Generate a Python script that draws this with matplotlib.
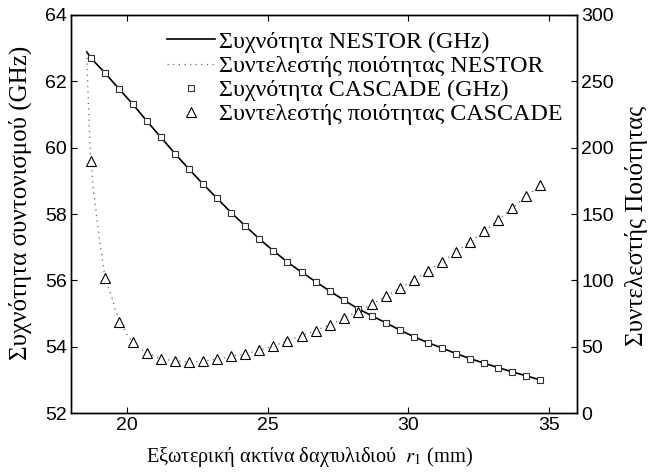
import matplotlib
matplotlib.use("Agg")
import matplotlib.pyplot as plt

# CASCADE samples
cascade_r = [18.7, 19.2, 19.7, 20.2, 20.7, 21.2, 21.7, 22.2, 22.7, 23.2, 23.7,
             24.2, 24.7, 25.2, 25.7, 26.2, 26.7, 27.2, 27.7, 28.2, 28.7, 29.2,
             29.7, 30.2, 30.7, 31.2, 31.7, 32.2, 32.7, 33.2, 33.7, 34.2, 34.7]
cascade_freq = [62.71, 62.26, 61.78, 61.31, 60.80, 60.31, 59.82, 59.35, 58.90,
                58.47, 58.04, 57.64, 57.25, 56.89, 56.55, 56.25, 55.96, 55.68,
                55.41, 55.15, 54.93, 54.72, 54.50, 54.30, 54.12, 53.96, 53.79,
                53.64, 53.50, 53.37, 53.24, 53.12, 53.00]
cascade_q = [190, 102, 68.8, 53.3, 45.2, 40.9, 39.2, 38.4, 39.2, 40.5, 42.7,
             44.7, 47.2, 50.7, 54.3, 58.3, 62.1, 66.6, 71.4, 76.4, 82.0, 88.0,
             94.0, 100.3, 107.3, 114.0, 121.4, 129.1, 137.0, 145.5, 154.5,
             163.8, 171.6]

# NESTOR curves
nestor_r = [18.56, 18.7, 19.2, 19.7, 20.2, 20.7, 21.2, 21.7, 22.2, 22.7, 23.2,
            23.7, 24.2, 24.7, 25.2, 25.7, 26.2, 26.7, 27.2, 27.7, 28.2, 28.7,
            29.2, 29.7, 30.2, 30.7, 31.2, 31.7, 32.2, 32.7, 33.2, 33.7, 34.2,
            34.75]
nestor_freq = [62.89, 62.71, 62.26, 61.78, 61.31, 60.80, 60.31, 59.82, 59.35,
               58.90, 58.47, 58.04, 57.64, 57.25, 56.89, 56.55, 56.25, 55.96,
               55.68, 55.41, 55.15, 54.93, 54.72, 54.50, 54.30, 54.12, 53.96,
               53.79, 53.64, 53.50, 53.37, 53.24, 53.12, 52.98]
nestor_q_r = [18.56, 18.60, 18.65, 18.70, 18.79, 18.85, 18.91, 19.03, 19.12,
              19.20, 19.44, 19.62, 19.97, 20.20, 20.56, 21.16, 21.7, 22.2,
              22.7, 23.2, 23.7, 24.2, 24.7, 25.2, 25.7, 26.2, 26.7, 27.2, 27.7,
              28.2, 28.7, 29.2, 29.7, 30.2, 30.7, 31.2, 31.7, 32.2, 32.7, 33.2,
              33.7, 34.2, 34.7, 34.85]
nestor_q = [272, 245, 215, 192, 170, 160, 148, 128, 116, 103, 88, 75, 60, 53,
            47, 41, 39.2, 38.4, 39.2, 40.5, 42.7, 44.7, 47.2, 50.7, 54.3, 58.3,
            62.1, 66.6, 71.4, 76.4, 82.0, 88.0, 94.0, 100.3, 107.3, 114.0,
            121.4, 129.1, 137.0, 145.5, 154.5, 163.8, 171.6, 174]

serif = ["Liberation Serif", "DejaVu Serif"]
sans = ["Liberation Sans", "DejaVu Sans"]
plt.rcParams["font.family"] = sans
plt.rcParams["mathtext.fontset"] = "stix"

fig = plt.figure(figsize=(6.52, 4.73), dpi=100)
ax = fig.add_axes([0.1089, 0.1268, 0.7761, 0.8415])
ax2 = ax.twinx()

l1, = ax.plot(nestor_r, nestor_freq, color="black", lw=1.2)
l2, = ax2.plot(nestor_q_r, nestor_q, color="#666666", lw=0.9, linestyle=(0, (1, 3.5)))
l3, = ax.plot(cascade_r, cascade_freq, linestyle="none", marker="s", ms=4.3,
              mfc="white", mec="#333333", mew=0.8)
l4, = ax2.plot(cascade_r, cascade_q, linestyle="none", marker="^", ms=7,
               mfc="white", mec="black", mew=0.8)

ax.set_xlim(18, 36)
ax.set_ylim(52, 64)
ax2.set_ylim(0, 300)
ax.set_xticks([20, 25, 30, 35])
ax.set_yticks([52, 54, 56, 58, 60, 62, 64])
ax2.set_yticks([0, 50, 100, 150, 200, 250, 300])

ax.tick_params(direction="in", labelsize=14, top=True, length=4, width=0.8, pad=3)
ax2.tick_params(direction="in", labelsize=14, length=4, width=0.8, pad=3)
for a in (ax, ax2):
    for s in a.spines.values():
        s.set_linewidth(1.0)

ax.set_xlabel("Εξωτερική ακτίνα δαχτυλιδιού  $r_1$ (mm)", family=serif, fontsize=14.7)
ax.set_ylabel("Συχνότητα συντονισμού (GHz)", family=serif, fontsize=18)
ax2.set_ylabel("Συντελεστής Ποιότητας", family=serif, fontsize=18)
ax.xaxis.set_label_coords(0.472, -0.08)
ax.yaxis.set_label_coords(-0.077, 0.528)
ax2.yaxis.set_label_coords(1.095, 0.469)

leg = ax.legend([l1, l2, l3, l4],
                ["Συχνότητα NESTOR (GHz)", "Συντελεστής ποιότητας NESTOR",
                 "Συχνότητα CASCADE (GHz)", "Συντελεστής ποιότητας CASCADE"],
                loc="upper left", bbox_to_anchor=(167 / 652, 1 - 31 / 473),
                bbox_transform=fig.transFigure, frameon=False,
                prop={"family": serif, "size": 17.3}, handlelength=2.0,
                handletextpad=0.15, borderpad=0, borderaxespad=0, labelspacing=0.1)

fig.savefig("out.png", dpi=100)
